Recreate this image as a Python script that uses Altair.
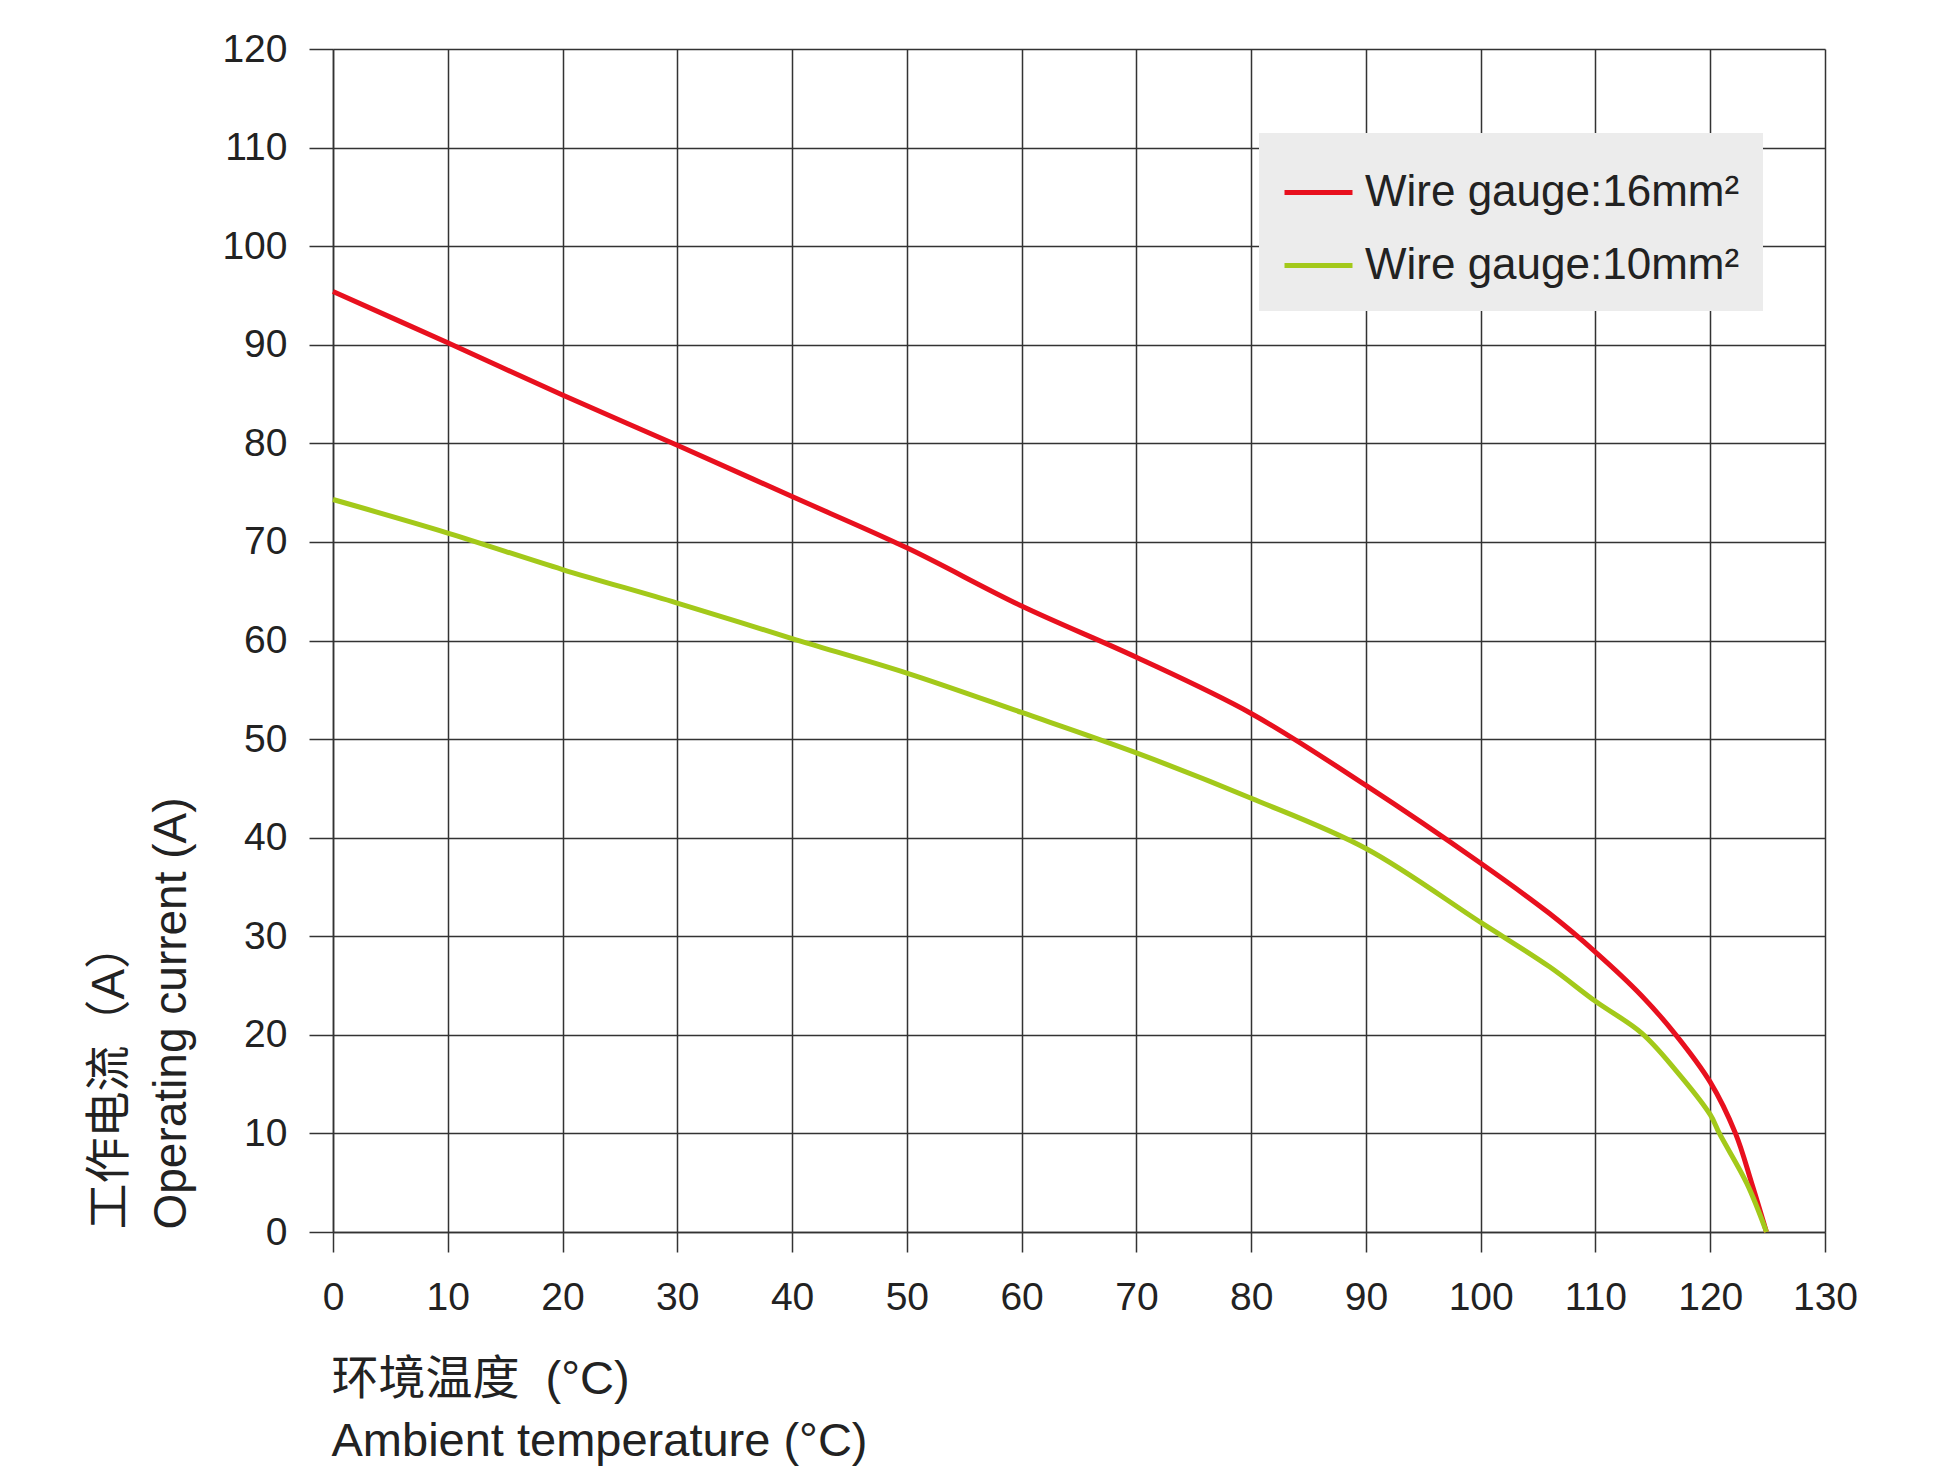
import altair as alt
import pandas as pd

# Data
temps_16 = [0, 10, 20, 30, 40, 50, 60, 70, 80, 90, 100, 106, 110, 114, 117, 120, 122.2, 123.6, 124.9]
current_16 = [95.4, 90.2, 84.9, 79.8, 74.6, 69.4, 63.5, 58.3, 52.6, 45.3, 37.4, 32.3, 28.4, 24.0, 20.0, 15.2, 10.0, 5.0, 0.0]

temps_10 = [0, 10, 20, 30, 40, 50, 60, 70, 80, 90, 100, 106, 110, 114, 117, 120, 120.8, 123.2, 124.9]
current_10 = [74.3, 70.9, 67.2, 63.8, 60.2, 56.7, 52.7, 48.6, 44.0, 38.9, 31.4, 26.9, 23.4, 20.2, 16.4, 11.9, 10.0, 4.9, 0.0]

series_names = ["Wire gauge:16mm\u00b2", "Wire gauge:10mm\u00b2"]
series_colors = ["#e8101e", "#a3c91a"]

x_ticks = list(range(0, 131, 10))
y_ticks = list(range(0, 121, 10))

x_title = ["环境温度\u00a0 (°C)", "Ambient temperature (°C)"]
y_title = ["工作电流（A）", "Operating current (A)"]

FONT = "Liberation Sans, Arial, Noto Sans CJK SC, sans-serif"
GRID = "#333333"
TEXT = "#222222"

df16 = pd.DataFrame({"t": temps_16, "i": current_16, "s": series_names[0]})
df10 = pd.DataFrame({"t": temps_10, "i": current_10, "s": series_names[1]})

x_enc = alt.X(
    "t:Q",
    scale=alt.Scale(domain=[0, 130], nice=False, zero=False),
    axis=alt.Axis(
        values=x_ticks, format="d", title=x_title,
        titleFont=FONT, titleFontSize=47, titleFontWeight="normal", titleColor=TEXT,
        titleAlign="left", titleBaseline="alphabetic", titleX=-2, titleY=161,
        titleLineHeight=62,
        labelFont=FONT, labelFontSize=39, labelColor=TEXT, labelPadding=26,
        labelFlush=False, labelOverlap=False,
        tickSize=20, tickColor=GRID, tickWidth=1.5,
        domainColor=GRID, domainWidth=1.5,
        grid=True, gridColor=GRID, gridWidth=1.5, gridOpacity=1,
    ),
)
y_enc = alt.Y(
    "i:Q",
    scale=alt.Scale(domain=[0, 120], nice=False, zero=False),
    axis=alt.Axis(
        values=y_ticks, format="d", title=y_title,
        titleFont=FONT, titleFontSize=46, titleFontWeight="normal", titleColor=TEXT,
        titleAngle=-90, titleAlign="left", titleBaseline="bottom",
        titleX=-200, titleY=1180, titleLineHeight=62,
        labelFont=FONT, labelFontSize=39, labelColor=TEXT, labelPadding=22,
        labelOverlap=False,
        tickSize=24, tickColor=GRID, tickWidth=1.5,
        domainColor=GRID, domainWidth=1.5,
        grid=True, gridColor=GRID, gridWidth=1.5, gridOpacity=1,
    ),
)
color_enc = alt.Color(
    "s:N",
    scale=alt.Scale(domain=series_names, range=series_colors),
    legend=alt.Legend(
        title=None, orient="none", legendX=926, legendY=84,
        fillColor="#ececec", padding=23,
        symbolType="stroke", symbolStrokeWidth=5, symbolSize=4624,
        labelFont=FONT, labelFontSize=44, labelColor=TEXT, labelOffset=10,
        labelLimit=700, rowPadding=14,
    ),
)

red = alt.Chart(df16).mark_line(strokeWidth=5, interpolate="catmull-rom").encode(
    x=x_enc, y=y_enc, color=color_enc
)
green = alt.Chart(df10).mark_line(strokeWidth=5, interpolate="catmull-rom").encode(
    x=x_enc, y=y_enc, color=color_enc
)

chart = (
    alt.layer(red, green)
    .properties(
        width=1492,
        height=1183,
        autosize=alt.AutoSizeParams(type="none"),
        padding={"left": 325, "top": 41, "right": 90, "bottom": 245},
        background="white",
    )
    .configure_view(stroke=None)
)

chart.save("out.html", embed_options={"renderer": "svg", "actions": False})
